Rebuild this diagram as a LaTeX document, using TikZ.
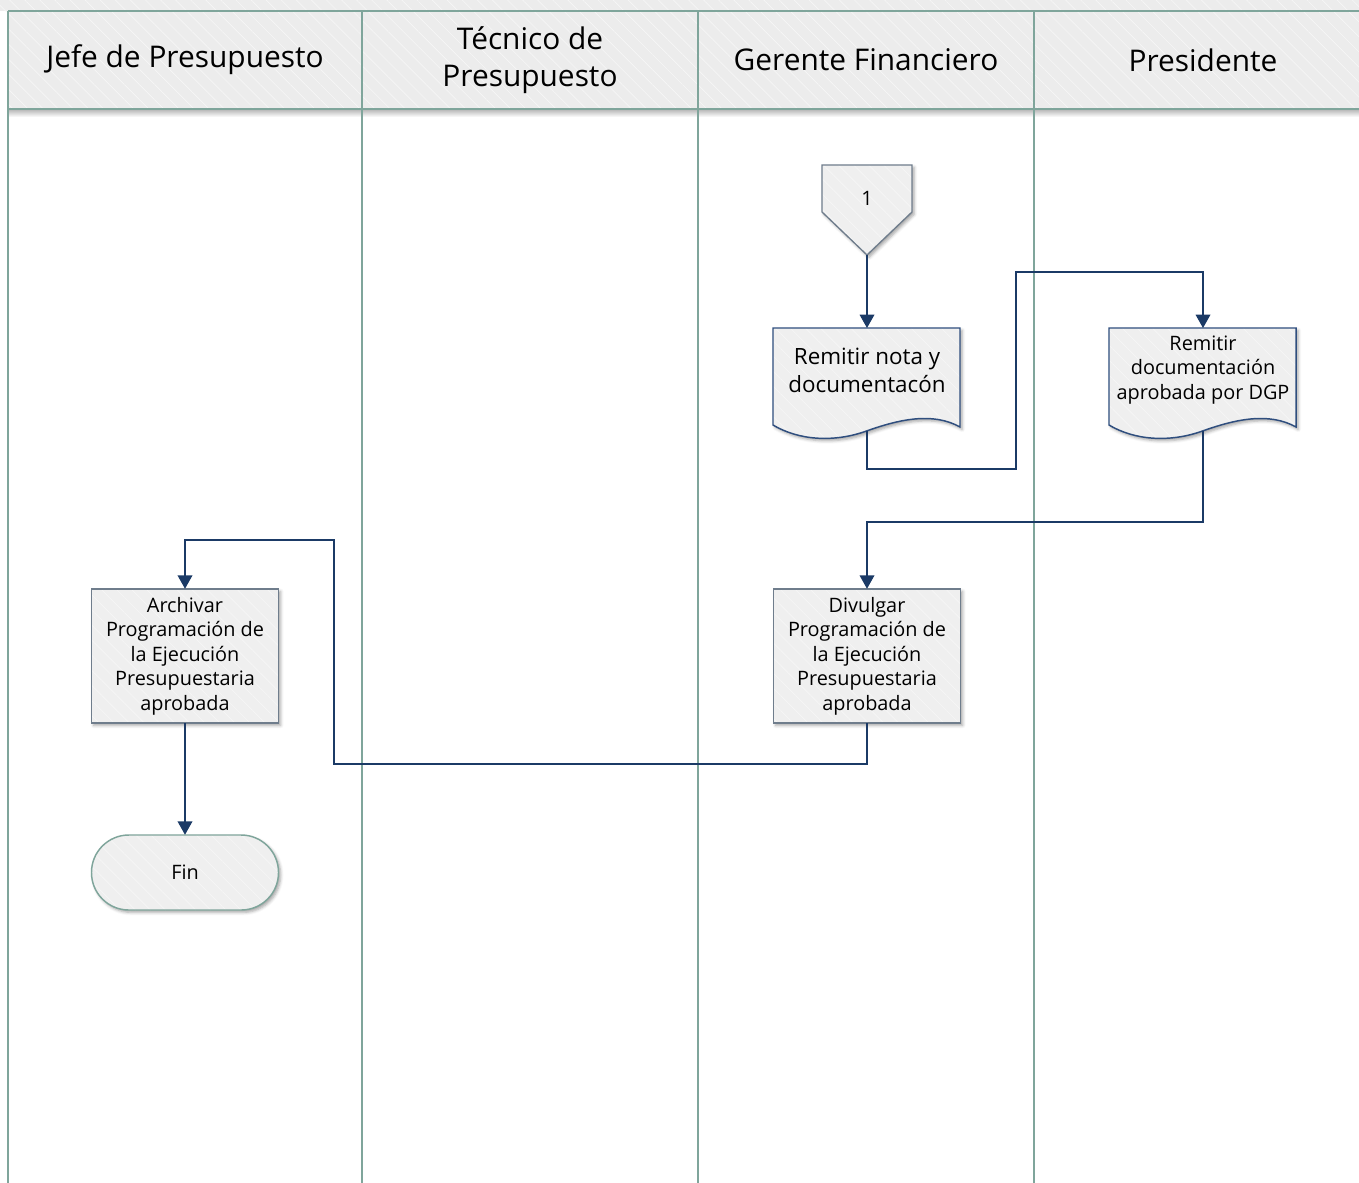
\documentclass[tikz,border=0pt]{standalone}
\usepackage{fontspec}
\setmainfont{Open Sans}
\usetikzlibrary{shadows.blur,arrows.meta,calc,patterns.meta}

\definecolor{laneline}{HTML}{7FA59B}
\definecolor{hdrfill}{HTML}{ECECEC}
\definecolor{shapefill}{HTML}{EFEFEF}
\definecolor{flowcol}{HTML}{1B3A66}
\definecolor{docedge}{HTML}{2F4E7E}
\definecolor{boxedge}{HTML}{6F7D8C}
\definecolor{stripe}{HTML}{F6F6F6}

\tikzset{
  x=0.75pt, y=-0.75pt,
  hatch/.style={postaction={pattern={Lines[angle=-45,distance=8pt,line width=0.5pt]},pattern color=stripe}},
  % striped fill, then the outline stroked again on top
  hatchedge/.style 2 args={fill=shapefill, hatch, postaction={draw=#1, line width=#2}},
  softshadow/.style={blur shadow={shadow xshift=1.6pt,shadow yshift=-1.8pt,shadow blur radius=2.2pt,shadow opacity=35}},
  hdrtext/.style={font=\fontsize{22.4}{27.75}\selectfont, align=center},
  bodytext/.style={font=\fontsize{14.9}{18.4}\selectfont, align=center},
  procbox/.style={rectangle, softshadow, hatchedge={boxedge}{1pt},
    minimum width=140.25pt, minimum height=100.5pt, inner sep=1pt, bodytext},
  termbox/.style={rectangle, rounded corners=28pt, softshadow, hatchedge={laneline}{1.1pt},
    minimum width=140.25pt, minimum height=56.25pt, bodytext},
  docshape/.style={softshadow, hatchedge={docedge}{1.1pt}},
  offpage/.style={softshadow, hatchedge={boxedge}{1pt}},
  flow/.style={draw=flowcol, line width=1pt, -{Triangle[length=10pt,width=11pt]}},
  lane/.style={draw=laneline, line width=1.5pt},
}

% document symbol: left x, top y (width 187, body height 97, wavy base)
\newcommand{\docoutline}[2]{%
  \path[docshape] (#1,#2) -- (#1+187,#2) -- (#1+187,#2+99)
    .. controls (#1+160,#2+84) and (#1+127,#2+91) .. (#1+93.5,#2+103)
    .. controls (#1+60,#2+115) and (#1+25,#2+112) .. (#1,#2+97) -- cycle;}

\begin{document}
\begin{tikzpicture}
\useasboundingbox (0,0) rectangle (1359,1182);

% pool title strip and lane header band
\path[fill=hdrfill, hatch] (0,0) rectangle (1380,11);
\path[fill=hdrfill, hatch] (8,11) rectangle (1380,109);
\shade[top color=black!28, bottom color=white] (8,109.5) rectangle (1380,117);

% lane borders
\draw[lane] (8,11) -- (1380,11);
\draw[lane] (8,109) -- (1380,109);
\foreach \lx in {8,362,698,1034}
  \draw[lane] (\lx,11) -- (\lx,1190);

% lane titles
\node[hdrtext] (hJefe) at (185,60) {Jefe de Presupuesto};
\node[hdrtext] (hTec) at (530,60.5) {Técnico de\\Presupuesto};
\node[hdrtext] (hGer) at (866,60) {Gerente Financiero};
\node[hdrtext] (hPres) at (1203,60) {Presidente};

% off-page reference 1
\path[offpage] (822,165) -- (912,165) -- (912,212) -- (867,255) -- (822,212) -- cycle;
\node[bodytext] (off1) at (867,198) {1};
\coordinate (off1tip) at (867,255);

% document: Remitir nota y documentación
\docoutline{773}{328}
\node[font=\fontsize{16.8}{21}\selectfont, align=center] (docA) at (867,370) {Remitir nota y\\documentacón};
\coordinate (docAtop) at (867,328);
\coordinate (docAbot) at (867,431);

% document: Remitir documentación aprobada por DGP
\docoutline{1109}{328}
\node[bodytext] (docB) at (1203,370) {Remitir\\documentación\\aprobada por DGP};
\coordinate (docBtop) at (1203,328);
\coordinate (docBbot) at (1203,431);

% processes
\node[procbox] (div) at (867,656) {Divulgar\\Programación de\\la Ejecución\\Presupuestaria\\aprobada};
\node[procbox] (arch) at (185,656) {Archivar\\Programación de\\la Ejecución\\Presupuestaria\\aprobada};

% terminator
\node[termbox] (fin) at (185,872.5) {Fin};

% connectors
\draw[flow] (off1tip) -- (docAtop);
\draw[flow] (docAbot) |- (1016,469) -- (1016,272) -| (docBtop);
\draw[flow] (docBbot) -- (1203,522) -| (div.north);
\draw[flow] (div.south) -- (867,764) -| (334,540) -| (arch.north);
\draw[flow] (arch.south) -- (fin.north);
\end{tikzpicture}
\end{document}
